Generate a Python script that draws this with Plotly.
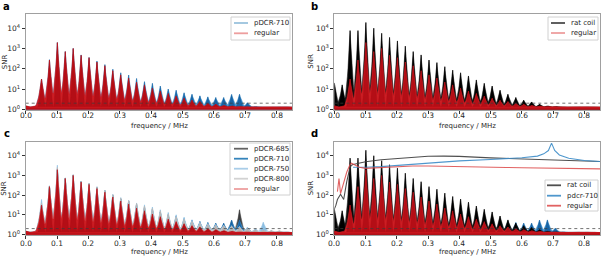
import math
import plotly.graph_objects as go

# ---------------- data ----------------
harmonic_freq_mhz = [0.0, 0.02525, 0.0505, 0.07575, 0.101, 0.12625, 0.1515, 0.17675, 0.202, 0.22725,
                     0.2525, 0.27775, 0.303, 0.32825, 0.3535, 0.37875, 0.404, 0.42925, 0.4545,
                     0.47975, 0.505, 0.53025, 0.5555, 0.58075, 0.606, 0.63125, 0.6565, 0.68175,
                     0.707, 0.73225, 0.7575, 0.78275, 0.808, 0.83325]

# peak SNR per harmonic (first entry: DC bin)
snr_regular = [1.5, 1.4, 31, 270, 1950, 700, 1000, 460, 350, 215, 140,
               80, 50, 35, 22, 16, 11, 8, 6, 4.5, 3.5,
               2.8, 2.4, 2.0, 1.8, 1.6, 1.5, 1.4, 1.35, 1.3, 1.3, 1.3, 1.3, 1.3]
snr_pdcr710 = [1.3, 1.3, 31, 280, 1950, 700, 1000, 480, 360, 240, 160,
               95, 63, 49, 33, 23, 19, 14, 10, 8.7, 6.5,
               5.5, 4.6, 4.1, 3.8, 3.8, 5.4, 5.5, 2.1, 1.4, 1.3, 1.3, 1.3, 1.3]
snr_pdcr685 = [1.3, 1.3, 33, 280, 2000, 720, 1050, 500, 380, 250, 170,
               100, 65, 50, 35, 25, 19, 14, 10, 8.0, 6.0,
               4.8, 4.0, 3.5, 3.3, 3.3, 5.0, 18, 2.2, 1.5, 1.3, 1.3, 1.3, 1.3]
snr_pdcr750 = [1.3, 1.3, 60, 300, 3300, 760, 1100, 520, 400, 270, 180,
               110, 75, 55, 40, 32, 25, 18, 13, 10, 7.5,
               5.5, 4.4, 3.6, 3.3, 3.0, 2.8, 2.6, 2.3, 2.0, 4.2, 1.6, 1.4, 1.3]
snr_pdcr800 = [1.3, 1.3, 40, 290, 2600, 740, 1080, 500, 390, 260, 175,
               105, 70, 52, 38, 28, 21, 16, 11, 8, 6,
               4.6, 3.8, 3.3, 3.0, 2.8, 2.6, 2.4, 2.0, 1.8, 1.7, 1.6, 1.6, 1.4]
snr_ratcoil = [20, 16, 7600, 7600, 19000, 10000, 5600, 3500, 2350, 1300, 700,
               480, 270, 200, 126, 85, 63, 44, 28, 19, 14,
               8.7, 5.5, 3.8, 2.8, 2.3, 1.8, 1.5, 1.4, 1.3, 1.3, 1.3, 1.3, 1.3]
noise_floor = 1.25
detection_threshold = 2.0

# panel d: smooth curves (frequency / MHz, SNR)
curve_freq = [0.0, 0.005, 0.01, 0.015, 0.02, 0.03, 0.04, 0.05, 0.055, 0.06, 0.08, 0.1, 0.15, 0.2,
              0.25, 0.3, 0.35, 0.4, 0.5, 0.55, 0.6, 0.65, 0.67, 0.685, 0.695, 0.705, 0.72, 0.75,
              0.8, 0.85]
curve_ratcoil = [20, 30, 60, 90, 110, 60, 500, 2500, 3300, 3600, 4200, 5000, 6300, 7400,
                 8600, 9500, 9600, 9300, 7800, 7300, 6900, 6400, 6200, 6100, 6000, 5900, 5800, 5500,
                 5300, 5100]
curve_pdcr710 = [None, None, None, None, None, None, None, None, None, 2600, 2700, 2600, 2800, 3200,
                 3800, 4500, 5000, 5500, 6500, 7100, 7900, 9600, 12500, 18500, 44000, 18500, 11000,
                 7500, 5800, 5100]
curve_regular = [None, None, 150, 700, 120, 500, 1500, 3500, 4200, 3800, 2600, 2300, 2500, 2900,
                 3000, 3000, 2950, 2850, 2650, 2550, 2450, 2380, 2350, 2330, 2320, 2300, 2280, 2250,
                 2200, 2150]

x_ticks = [0.0, 0.1, 0.2, 0.3, 0.4, 0.5, 0.6, 0.7, 0.8]
y_ticks = [1, 10, 100, 1000, 10000]
y_tick_labels = ["10<sup>0</sup>", "10<sup>1</sup>", "10<sup>2</sup>", "10<sup>3</sup>", "10<sup>4</sup>"]

legend_a = ["pDCR-710", "regular"]
legend_b = ["rat coil", "regular"]
legend_c = ["pDCR-685", "pDCR-710", "pDCR-750", "pDCR-800", "regular"]
legend_d = ["rat coil", "pdcr-710", "regular"]

# ---------------- helpers ----------------
W, H = 602, 257
SPACING = 0.02525         # used only for drawing peak profiles
X_MAX = 0.85
GRID_OFFS = [-0.5, -0.42, -0.34, -0.26, -0.19, -0.13, -0.08, -0.04, -0.015, 0.0,
             0.015, 0.04, 0.08, 0.13, 0.19, 0.26, 0.34, 0.42]
FONT = "DejaVu Sans"


def spectrum_polygon(peaks, floor=noise_floor, half_width=1.0, expo=2.2):
    lf = math.log10(floor)
    lps = [math.log10(max(p, floor)) for p in peaks]
    xs = []
    for f in harmonic_freq_mhz:
        for o in GRID_OFFS:
            x = f + o * SPACING
            if 0 <= x <= X_MAX:
                xs.append(x)
    xs = sorted(set(xs + [X_MAX]))
    ys = []
    for x in xs:
        best = lf
        for f, lp in zip(harmonic_freq_mhz, lps):
            d = abs(x - f) / (half_width * SPACING)
            if d < 1:
                best = max(best, lf + (lp - lf) * (1 - d) ** expo)
        ys.append(10 ** best)
    xs = xs + [X_MAX, 0.0]
    ys = ys + [0.3, 0.3]
    return xs, ys


fig = go.Figure()

domains = {
    1: ([25.7 / W, 292.3 / W], [1 - 109.5 / H, 1 - 14 / H]),
    2: ([334.3 / W, 600 / W], [1 - 109.5 / H, 1 - 14 / H]),
    3: ([25.7 / W, 292.3 / W], [1 - 234.7 / H, 1 - 142 / H]),
    4: ([334.3 / W, 600 / W], [1 - 234.7 / H, 1 - 142 / H]),
}


def axn(p):
    return "" if p == 1 else str(p)


def add_spec(panel, peaks, fill, core):
    ax = axn(panel)
    xs, ys = spectrum_polygon(peaks)
    fig.add_trace(go.Scatter(x=xs, y=ys, mode="lines", fill="toself", fillcolor=fill,
                             line=dict(color=fill, width=0.5), xaxis="x" + ax, yaxis="y" + ax,
                             showlegend=False, hoverinfo="skip"))
    xs, ys = spectrum_polygon(peaks, half_width=0.5, expo=1.6)
    fig.add_trace(go.Scatter(x=xs, y=ys, mode="lines", fill="toself", fillcolor=core,
                             line=dict(color=core, width=0.4), xaxis="x" + ax, yaxis="y" + ax,
                             showlegend=False, hoverinfo="skip"))


RED = ("rgb(204,30,36)", "rgb(180,14,22)")
BLUE = ("rgb(70,148,205)", "rgb(24,100,165)")
BLACK = ("rgb(25,25,25)", "rgb(0,0,0)")

# panel a
add_spec(1, snr_pdcr710, *BLUE)
add_spec(1, snr_regular, *RED)
# panel b
add_spec(2, snr_ratcoil, *BLACK)
add_spec(2, snr_regular, *RED)
# panel c
add_spec(3, snr_pdcr685, "rgb(95,95,95)", "rgb(60,60,60)")
add_spec(3, snr_pdcr710, *BLUE)
add_spec(3, snr_pdcr750, "rgb(170,208,235)", "rgb(140,190,225)")
add_spec(3, snr_pdcr800, "rgb(200,200,200)", "rgb(180,180,180)")
add_spec(3, snr_regular, *RED)
# panel d
add_spec(4, snr_pdcr710, *BLUE)
add_spec(4, snr_ratcoil, *BLACK)
add_spec(4, snr_regular, *RED)
curve_cols_d = ["rgba(60,60,60,0.9)", "rgba(60,140,200,0.9)", "rgba(220,70,70,0.85)"]
for vals, col in zip([curve_ratcoil, curve_pdcr710, curve_regular], curve_cols_d):
    fig.add_trace(go.Scatter(x=curve_freq, y=vals, mode="lines", line=dict(color=col, width=1.1),
                             xaxis="x4", yaxis="y4", showlegend=False, hoverinfo="skip"))

# threshold / floor lines
for p in range(1, 5):
    ax = axn(p)
    fig.add_trace(go.Scatter(x=[0, X_MAX], y=[detection_threshold, detection_threshold], mode="lines",
                             line=dict(color="rgba(60,60,60,0.9)", width=0.8, dash="dot"),
                             xaxis="x" + ax, yaxis="y" + ax, showlegend=False, hoverinfo="skip"))
    fig.add_trace(go.Scatter(x=[0, X_MAX], y=[noise_floor * 0.97, noise_floor * 0.97], mode="lines",
                             line=dict(color="rgb(200,20,28)", width=1.5),
                             xaxis="x" + ax, yaxis="y" + ax, showlegend=False, hoverinfo="skip"))

layout = dict(width=W, height=H, margin=dict(l=0, r=0, t=0, b=0), showlegend=False,
              paper_bgcolor="white", plot_bgcolor="white",
              font=dict(family=FONT, size=7, color="#262626"))

for p, (dx, dy) in domains.items():
    ax = axn(p)
    layout["xaxis" + ax] = dict(domain=dx, range=[0, X_MAX], anchor="y" + ax, tickvals=x_ticks,
                                showticklabels=False, ticks="outside", ticklen=3,
                                tickcolor="#333", showline=True, mirror=True, linecolor="#a0a0a0",
                                linewidth=1, showgrid=False, zeroline=False, automargin=False)
    layout["yaxis" + ax] = dict(domain=dy, type="log", range=[-0.01, 4.7], anchor="x" + ax,
                                tickvals=y_ticks, ticktext=y_tick_labels, ticks="outside", ticklen=3,
                                tickcolor="#333", showline=True, mirror=True, linecolor="#a0a0a0",
                                linewidth=1, showgrid=False, zeroline=False, automargin=False,
                                tickfont=dict(size=7.5, color="#262626"))

annotations = []
shapes = []


def txt(t, x, y, size=7, xanchor="center", bold=False, angle=0, xref="paper"):
    annotations.append(dict(text=f"<b>{t}</b>" if bold else t, x=x / W if xref == "paper" else x,
                            y=1 - y / H, xref=xref,
                            yref="paper", xanchor=xanchor, yanchor="middle", showarrow=False,
                            textangle=angle, font=dict(size=size, family=FONT,
                                                       color="black" if bold else "#262626")))


for t, x, y in [("a", 1, 6), ("b", 309, 6), ("c", 2, 133), ("d", 309, 133)]:
    txt(t, x, y, size=10, xanchor="left", bold=True)
for x0, x1 in [(25.7, 292.3), (334.3, 600)]:
    txt("frequency / MHz", (x0 + x1) / 2, 126)
    txt("frequency / MHz", (x0 + x1) / 2, 252)
for x, (y0, y1) in [(4.5, (14, 109.5)), (311, (14, 109.5)), (4.5, (142, 234.7)), (311, (142, 234.7))]:
    txt("SNR", x, (y0 + y1) / 2, angle=-90)
# x tick labels
for p, yl in [(1, 116), (2, 116), (3, 243.5), (4, 243.5)]:
    for v in x_ticks:
        txt(f"{v:.1f}", v, yl, size=7.5, xref="x" + axn(p))


def legend(box, line_x, text_x, ys, names, colors):
    x0, y0, x1, y1 = box
    shapes.append(dict(type="rect", xref="paper", yref="paper", x0=x0 / W, x1=x1 / W,
                       y0=1 - y0 / H, y1=1 - y1 / H, fillcolor="rgba(255,255,255,0.85)",
                       line=dict(color="#d0d0d0", width=1), layer="above"))
    for y, n, c in zip(ys, names, colors):
        shapes.append(dict(type="line", xref="paper", yref="paper", x0=line_x[0] / W, x1=line_x[1] / W,
                           y0=1 - y / H, y1=1 - y / H, line=dict(color=c, width=1.8), layer="above"))
        txt(n, text_x, y, xanchor="left")


legend((231, 17, 290, 40), (234, 248), 252, [23, 33.3], legend_a,
       ["rgba(31,119,180,0.45)", "rgba(214,39,40,0.45)"])
legend((548, 17, 598, 40), (551, 565), 569, [23, 33], legend_b,
       ["rgba(0,0,0,0.7)", "rgba(214,39,40,0.45)"])
legend((230, 143, 290, 195), (234, 248), 252, [148.7, 158.7, 168.7, 178.7, 189], legend_c,
       ["rgba(60,60,60,0.8)", "rgba(31,119,180,0.9)", "rgba(160,200,230,0.9)",
        "rgba(205,205,205,0.9)", "rgba(214,39,40,0.45)"])
legend((545, 180, 598, 211), (547, 561), 565, [185.3, 195.7, 205.7], legend_d, curve_cols_d)

layout["annotations"] = annotations
layout["shapes"] = shapes
fig.update_layout(**layout)
fig.write_html("out.html", config={"displayModeBar": False},
               post_script="document.body.style.margin='0';document.body.style.overflow='hidden';")
